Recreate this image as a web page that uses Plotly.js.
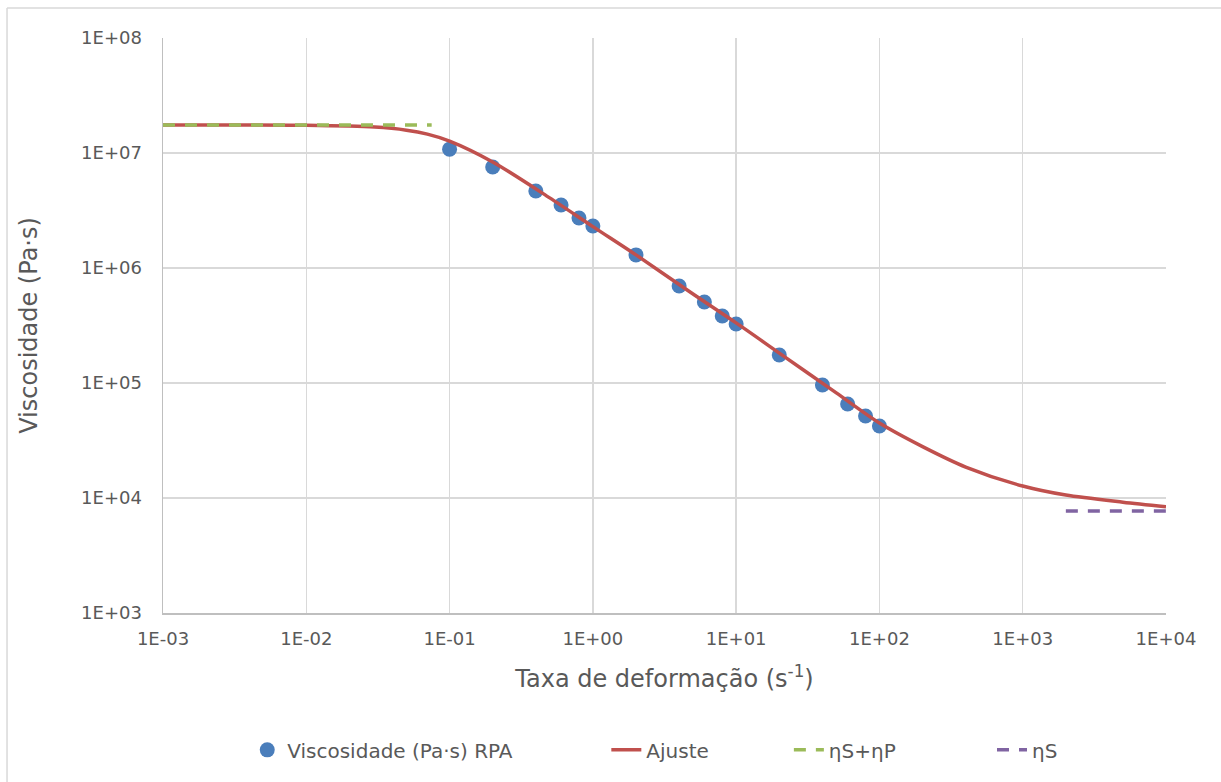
<!DOCTYPE html>
<html>
<head>
<meta charset="utf-8">
<script src="https://cdn.plot.ly/plotly-3.0.1.min.js"></script>
<style>html,body{margin:0;padding:0;background:#fff;}#chart{width:1221px;height:782px;}</style>
</head>
<body>
<div id="chart"></div>
<script>
// Measured data (RPA)
const rpaRate = [0.1, 0.2, 0.4, 0.6, 0.8, 1, 2, 4, 6, 8, 10, 20, 40, 60, 80, 100];
const rpaVisc = [1.08e7, 7.55e6, 4.67e6, 3.53e6, 2.72e6, 2.32e6, 1.30e6, 6.97e5, 5.06e5, 3.83e5, 3.26e5, 1.75e5, 9.6e4, 6.56e4, 5.16e4, 4.23e4];

// Fitted curve
const fitRate = [0.001, 0.01, 0.03, 0.05, 0.07, 0.1, 0.2, 0.5, 1, 2, 5, 10, 20, 50, 100, 200, 400, 1000, 2000, 5000, 10000];
const fitVisc = [1.75e7, 1.74e7, 1.68e7, 1.58e7, 1.46e7, 1.27e7, 8.36e6, 4.07e6, 2.29e6, 1.30e6, 5.94e5, 3.33e5, 1.82e5, 8.2e4, 4.49e4, 2.8e4, 1.86e4, 1.27e4, 1.06e4, 9.2e3, 8.4e3];

// ηS+ηP plateau
const zeroRate = [0.001, 0.075];
const zeroVisc = [1.75e7, 1.75e7];

// ηS plateau
const infRate = [2000, 10000];
const infVisc = [7.7e3, 7.7e3];

const xTickVals = [1e-3, 1e-2, 1e-1, 1, 10, 100, 1000, 10000];
const xTickText = ['1E-03', '1E-02', '1E-01', '1E+00', '1E+01', '1E+02', '1E+03', '1E+04'];
const yTickVals = [1e3, 1e4, 1e5, 1e6, 1e7, 1e8];
const yTickText = ['1E+03', '1E+04', '1E+05', '1E+06', '1E+07', '1E+08'];

const FONT = '"DejaVu Sans", "Noto Sans", sans-serif';
const GRAY = '#595959';

const traces = [
  {x: rpaRate, y: rpaVisc, type: 'scatter', mode: 'markers', name: 'Viscosidade (Pa·s) RPA',
   marker: {color: '#4a7ebb', size: 15}, legend: 'legend'},
  {x: fitRate, y: fitVisc, type: 'scatter', mode: 'lines', name: 'Ajuste',
   line: {color: '#c0504d', width: 3.5, shape: 'spline', smoothing: 0.8}, legend: 'legend2'},
  {x: zeroRate, y: zeroVisc, type: 'scatter', mode: 'lines', name: 'ηS+ηP',
   line: {color: '#9bbb59', width: 3.5, dash: '12px,10px'}, legend: 'legend3'},
  {x: infRate, y: infVisc, type: 'scatter', mode: 'lines', name: 'ηS',
   line: {color: '#8064a2', width: 3.5, dash: '12px,10px'}, legend: 'legend4'}
];

function leg(x) {
  return {x: x, xanchor: 'left', y: -0.238, yanchor: 'middle', orientation: 'h',
          font: {size: 20, color: GRAY, family: FONT}, bgcolor: 'rgba(0,0,0,0)', borderwidth: 0};
}

const layout = {
  width: 1221, height: 782,
  margin: {l: 163, r: 55, t: 38, b: 169},
  paper_bgcolor: '#fff', plot_bgcolor: '#fff',
  font: {family: FONT, color: GRAY, size: 18},
  showlegend: true,
  legend: leg(0.084),
  legend2: leg(0.442),
  legend3: leg(0.624),
  legend4: leg(0.8265),
  xaxis: {type: 'log', range: [-3, 4], tickvals: xTickVals, ticktext: xTickText,
          showgrid: true, gridcolor: '#d9d9d9', gridwidth: 1.5,
          showline: true, linecolor: '#bfbfbf', linewidth: 1.5, zeroline: false,
          ticks: '', tickfont: {size: 18, color: GRAY}, ticklabelstandoff: 9,
          automargin: false,
          title: {text: 'Taxa de deformação (s<sup>-1</sup>)', font: {size: 24, color: GRAY}, standoff: 22}},
  yaxis: {type: 'log', range: [3, 8], tickvals: yTickVals, ticktext: yTickText,
          showgrid: true, gridcolor: '#d9d9d9', gridwidth: 1.5,
          showline: true, linecolor: '#bfbfbf', linewidth: 1.5, zeroline: false,
          ticks: '', tickfont: {size: 18, color: GRAY}, ticklabelstandoff: 16,
          automargin: false,
          title: {text: 'Viscosidade (Pa·s)', font: {size: 24, color: GRAY}, standoff: 36}},
  shapes: [
    {type: 'line', xref: 'paper', yref: 'paper', x0: -0.1555, x1: 1.1, y0: 1.0522, y1: 1.0522,
     line: {color: '#d9d9d9', width: 1.5}},
    {type: 'line', xref: 'paper', yref: 'paper', x0: -0.1555, x1: -0.1555, y0: 1.0522, y1: -0.35,
     line: {color: '#d9d9d9', width: 1.5}}
  ]
};

Plotly.newPlot('chart', traces, layout, {displayModeBar: false, staticPlot: true});
</script>
</body>
</html>
